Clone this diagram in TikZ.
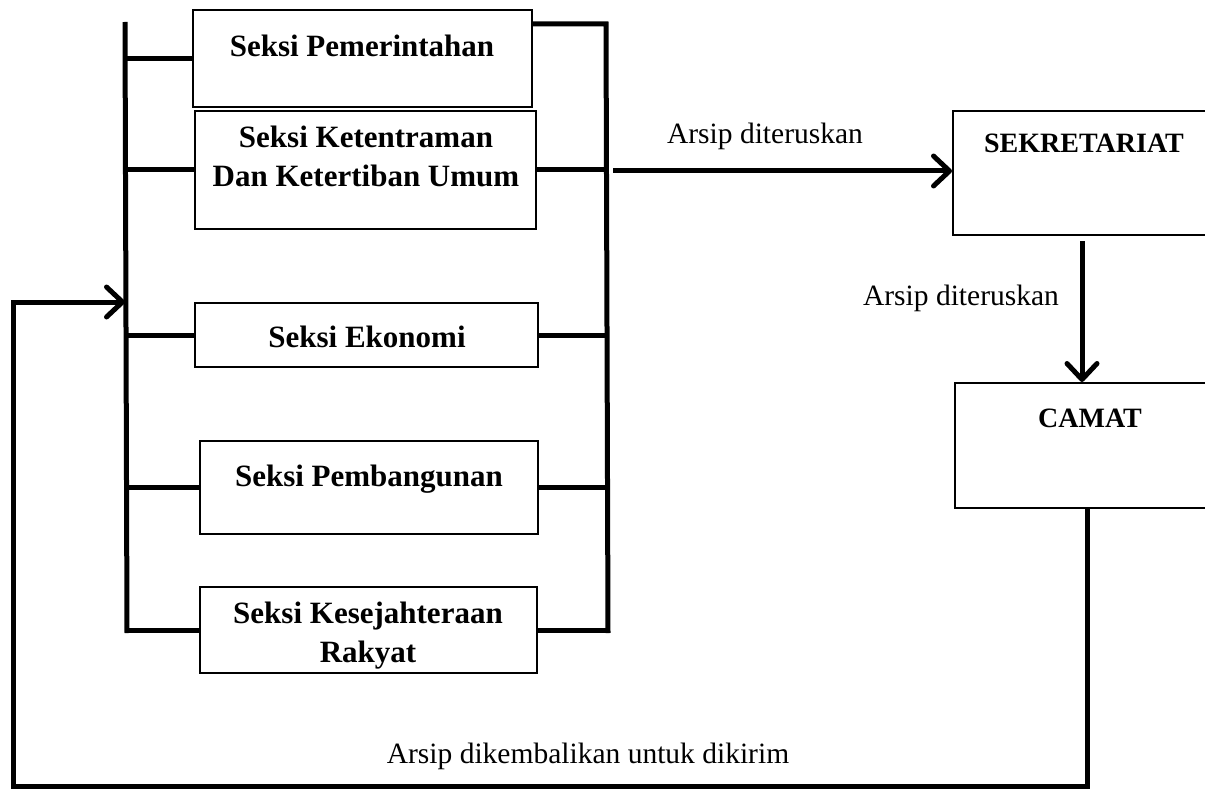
\documentclass[tikz,border=0pt]{standalone}
\usepackage{fontspec}
\setmainfont{Liberation Serif}
\usetikzlibrary{arrows.meta,fit}
\begin{document}
\begin{tikzpicture}[x=1pt,y=-1pt,
  box/.style={draw, line width=2pt, inner sep=0pt, rectangle},
  btxt/.style={font=\fontsize{31}{39}\selectfont\bfseries, align=center, anchor=base, inner sep=0pt},
  utxt/.style={font=\fontsize{28}{34}\selectfont\bfseries, anchor=base, inner sep=0pt},
  ltxt/.style={font=\fontsize{29.5}{35}\selectfont, anchor=base, inner sep=0pt},
  bus/.style={line width=5pt},
  tip/.style={-{Straight Barb[length=16pt,width=30pt,line width=5pt,round]}},
  arr/.style={line width=5pt, tip},
]
\useasboundingbox (0,0) rectangle (1205,789);
\clip (0,0) rectangle (1205,789);

% boxes
\node[box, fit={(193,10) (532,107)}] (pem) {};
\node[box, fit={(195,111) (536,229)}] (ket) {};
\node[box, fit={(195,303) (538,367)}] (eko) {};
\node[box, fit={(200,441) (538,534)}] (pemb) {};
\node[box, fit={(200,587) (537,673)}] (kes) {};
\node[box, fit={(953,111) (1230,235)}] (sek) {};
\node[box, fit={(955,383) (1230,508)}] (cam) {};

% box texts (base = baseline of last line)
\node[btxt] (pemT) at (362,57) {Seksi Pemerintahan};
\node[btxt] (ketT) at (366,186) {Seksi Ketentraman\\Dan Ketertiban Umum};
\node[btxt] (ekoT) at (367,347) {Seksi Ekonomi};
\node[btxt] (pembT) at (369,486) {Seksi Pembangunan};
\node[btxt] (kesT) at (368,662) {Seksi Kesejahteraan\\Rakyat};
\node[utxt] (sekT) at (1084,153) {SEKRETARIAT};
\node[utxt] (camT) at (1090,427) {CAMAT};

% buses
\coordinate (lt) at (125,22);
\coordinate (lb) at (127,633);
\coordinate (rt) at (606,24);
\coordinate (rb) at (608,633);
\draw[bus] (lt) -- (lb);
\draw[bus] (pem.east |- rt) -- (rt) -- (rb);

% left connectors
\draw[bus] (pem.west) -- (pem.west -| lt);
\draw[bus] (ket.west) -- (ket.west -| lt);
\draw[bus] (eko.west) -- (eko.west -| lt);
\draw[bus] (pemb.west) -- (pemb.west -| lt);
\draw[bus] (kes.west) -- (kes.west -| lb);
% right connectors
\draw[bus] (ket.east) -- (ket.east -| rt);
\draw[bus] (eko.east) -- (eko.east -| rt);
\draw[bus] (pemb.east) -- (pemb.east -| rt);
\draw[bus] (kes.east) -- (kes.east -| rb);

% arrow to SEKRETARIAT
\coordinate (a0) at (613,171);
\draw[arr] (a0) -- (a0 -| sek.west);
\node[ltxt] (lab1) at (765,143) {Arsip diteruskan};

% arrow SEKRETARIAT -> CAMAT
\coordinate (d0) at (1082,241);
\draw[arr] (d0) -- (d0 |- cam.north);
\node[ltxt] (lab2) at (961,305) {Arsip diteruskan};

% return loop
\coordinate (r1) at (1087,786);
\coordinate (r2) at (13,786);
\coordinate (r3) at (13,302);
\draw[line width=5pt, line join=miter, tip]
  (cam.south -| r1) -- (r1) -- (r2) -- (r3) -- (r3 -| lt);
\node[ltxt] (lab3) at (588,763) {Arsip dikembalikan untuk dikirim};
\end{tikzpicture}
\end{document}
